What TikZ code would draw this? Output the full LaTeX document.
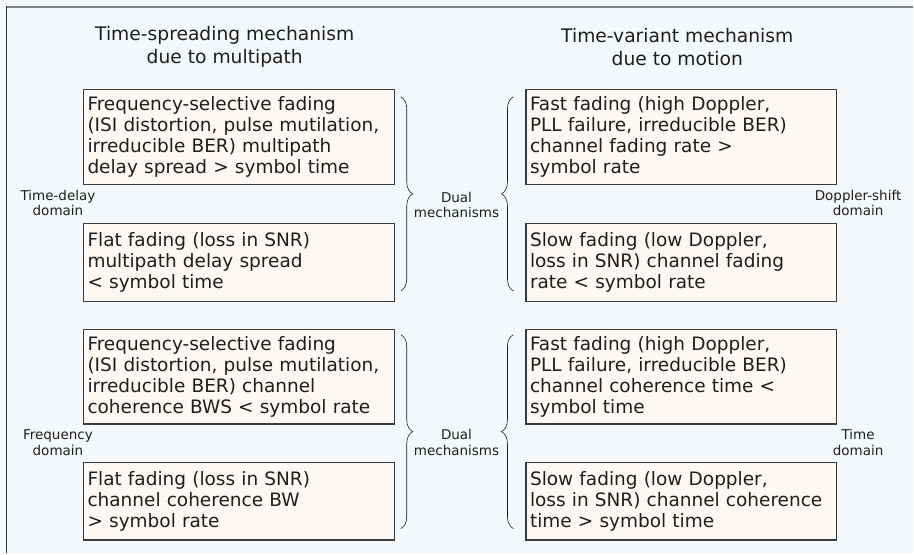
\documentclass[tikz,border=0pt]{standalone}
\usepackage{fontspec}
\setmainfont{DejaVu Sans}
\usetikzlibrary{calc,decorations.pathreplacing}
\definecolor{bgblue}{HTML}{F5F8FA}
\definecolor{boxfill}{HTML}{FDF8F3}
\definecolor{boxline}{HTML}{3A3A3A}
\definecolor{inkgray}{HTML}{1E1E1E}
\definecolor{frametop}{HTML}{808080}
\definecolor{frameleft}{HTML}{333333}

\begin{document}
\begin{tikzpicture}[x=1pt,y=-1pt,font=\fontsize{18.5}{21}\selectfont,text=inkgray,
  fadebox/.style={draw=boxline,line width=1.2pt,fill=boxfill,text width=303pt,
    inner xsep=4pt,inner ysep=7pt,align=left,anchor=north west},
  shortbox/.style={fadebox,minimum height=78pt},
  title/.style={align=center,font=\fontsize{18.7}{23}\selectfont},
  side/.style={align=center,font=\fontsize{13.5}{15.5}\selectfont},
  dual/.style={draw=inkgray,line width=0.6pt,decorate,decoration={brace,amplitude=12pt}}]

\fill[bgblue] (0,0) rectangle (914,554);
\draw[frametop,line width=2pt] (6,7) -- (914,7);
\draw[frameleft,line width=1.5pt] (6.5,6) -- (6.5,554);

\node[title] (spread) at (225,47) {Time-spreading mechanism\\due to multipath};
\node[title] (variant) at (678,47) {Time-variant mechanism\\due to motion};

% multipath column
\node[fadebox] (fsdelay) at (83,89) {Frequency-selective fading\\(ISI distortion, pulse mutilation,\\irreducible BER) multipath\\delay spread > symbol time};
\node[shortbox] (flatdelay) at (83,223) {Flat fading (loss in SNR)\\multipath delay spread\\< symbol time};
\node[fadebox] (fsbw) at (83,329) {Frequency-selective fading\\(ISI distortion, pulse mutilation,\\irreducible BER) channel\\coherence BWS < symbol rate};
\node[shortbox] (flatbw) at (83,462) {Flat fading (loss in SNR)\\channel coherence BW\\> symbol rate};

% motion column
\node[fadebox] (fastrate) at (526,89) {Fast fading (high Doppler,\\PLL failure, irreducible BER)\\channel fading rate >\\symbol rate};
\node[shortbox] (slowrate) at (526,223) {Slow fading (low Doppler,\\loss in SNR) channel fading\\rate < symbol rate};
\node[fadebox] (fasttime) at (526,329) {Fast fading (high Doppler,\\PLL failure, irreducible BER)\\channel coherence time <\\symbol time};
\node[shortbox] (slowtime) at (526,462) {Slow fading (low Doppler,\\loss in SNR) channel coherence\\time > symbol time};

\node[side] (tdelay) at (58,203) {Time-delay\\domain};
\node[side] (freq) at (58,443) {Frequency\\domain};
\node[side] (doppler) at (859,203) {Doppler-shift\\domain};
\node[side] (tdom) at (859,443) {Time\\domain};
\node[side] (dualup) at (457,205) {Dual\\mechanisms};
\node[side] (duallow) at (457,443) {Dual\\mechanisms};

\draw[dual] ($(fsdelay.north east)+(6,8)$) -- ($(flatdelay.south east)+(6,-11)$);
\draw[dual] ($(fsbw.north east)+(6,6)$) -- ($(flatbw.south east)+(6,-12)$);
\draw[dual] ($(slowrate.south west)+(-12,-11)$) -- ($(fastrate.north west)+(-12,8)$);
\draw[dual] ($(slowtime.south west)+(-12,-12)$) -- ($(fasttime.north west)+(-12,6)$);

\end{tikzpicture}
\end{document}
